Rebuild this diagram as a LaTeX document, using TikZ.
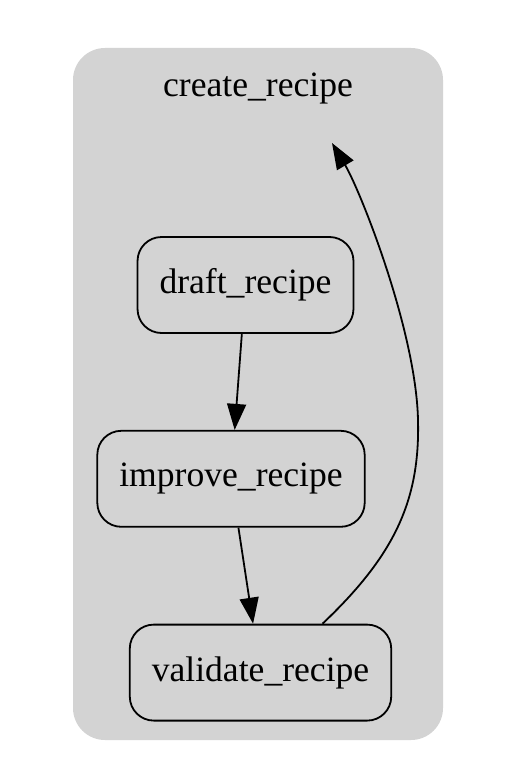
\documentclass[tikz,border=0pt]{standalone}
\usepackage{fontspec}
\setmainfont{Liberation Serif}
\usepackage{xcolor}
\definecolor{clustergray}{HTML}{D3D3D3}
\usepackage{tikz}
\usetikzlibrary{positioning,arrows.meta}
\begin{document}
\begin{tikzpicture}[x=1pt,y=-1pt,node distance=96pt] % 1pt per pixel, y downwards
                % Styles for the steps and the edges
                \tikzset{stepbox/.style={rectangle,draw,line width=1.8pt,rounded corners=24pt,minimum height=96pt,inner xsep=22pt,fill=clustergray,font=\fontsize{35.6}{40}\selectfont},
                         edge/.style={line width=1.8pt,-{Triangle[length=26pt,width=19pt]}}}
                \useasboundingbox (0,0) rectangle (506,770);
                % The cluster and its label
                \fill[clustergray,rounded corners=32pt] (73,48) rectangle (443,740);
                \node[anchor=base,font=\fontsize{35.6}{40}\selectfont] (label) at (258,97) {create\_recipe};
                % The steps
                \node[stepbox] (draft) at (245.5,285) {draft\_recipe};
                \node[stepbox,below=96pt of draft,xshift=-14.5pt] (improve) {improve\_recipe};
                \node[stepbox,below=96pt of improve,xshift=29.5pt] (validate) {validate\_recipe};
                \coordinate (cluster) at (332,143);
                % The edges
                \draw[edge] (draft) -- (improve);
                \draw[edge] (improve) -- (validate);
                \draw[edge] ([xshift=62pt]validate.north) .. controls (395,555) and (420,500) .. (418,420) .. controls (416,330) and (360,190) .. (cluster);
            \end{tikzpicture}
\end{document}
